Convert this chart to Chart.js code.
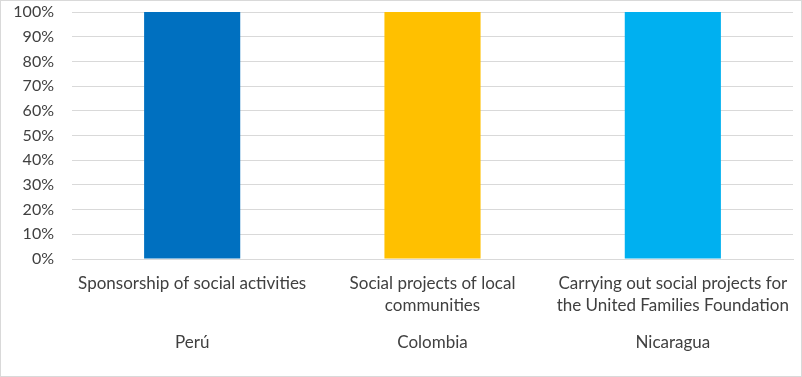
<!DOCTYPE html>
<html>
<head>
<meta charset="utf-8">
<script src="https://cdn.jsdelivr.net/npm/chart.js@4"></script>
<style>
  body { margin: 0; background: #fff; }
  #box { width: 800px; height: 375px; border: 1px solid #d9d9d9; }
</style>
</head>
<body>
<div id="box"><canvas id="chart" width="800" height="375"></canvas></div>
<script>
const categories = [
    ['Sponsorship of social activities'],
    ['Social projects of local', 'communities'],
    ['Carrying out social projects for', 'the United Families Foundation']
]
const countries = ['Perú', 'Colombia', 'Nicaragua']
const values = [1, 1, 1]
const barColors = ['#0070C0', '#FFC000', '#00B0F0']

const textColor = '#404040'
const gridColor = '#d9d9d9'

const ctx = document.getElementById('chart').getContext('2d')
const chart = new Chart(ctx, {
    type: 'bar',
    data: {
        labels: categories,
        datasets: [{
            data: values,
            backgroundColor: barColors,
            categoryPercentage: 1,
            barPercentage: 0.4
        }]
    },
    options: {
        responsive: false,
        animation: false,
        layout: { padding: { top: 11, right: 8, left: 0, bottom: 0 } },
        plugins: {
            legend: { display: false },
            tooltip: { enabled: false }
        },
        scales: {
            y: {
                min: 0,
                max: 1,
                ticks: {
                    stepSize: 0.1,
                    font: { family: 'Lato', size: 16 },
                    color: textColor,
                    padding: 18,
                    callback: v => Math.round(v * 100) + '%'
                },
                grid: { color: gridColor, drawTicks: false },
                border: { display: false },
                afterFit: s => { s.width = 71; s.paddingTop = 0; s.paddingBottom = 0 }
            },
            x: {
                ticks: {
                    font: { family: 'Lato', size: 17, lineHeight: 1.3 },
                    color: textColor,
                    padding: 5,
                    maxRotation: 0,
                    autoSkip: false
                },
                grid: { display: false },
                border: { color: gridColor },
                afterFit: s => { s.height = 62 }
            },
            x2: {
                type: 'category',
                labels: countries,
                position: 'bottom',
                ticks: {
                    font: { family: 'Lato', size: 17 },
                    color: textColor,
                    padding: 3,
                    maxRotation: 0
                },
                grid: { display: false },
                border: { display: false },
                afterFit: s => { s.height = 55 }
            }
        }
    }
})
</script>
</body>
</html>
